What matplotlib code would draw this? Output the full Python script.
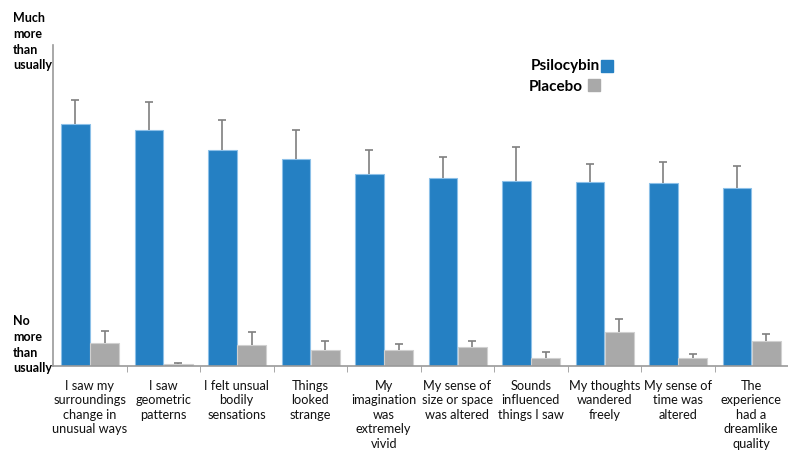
import numpy as np
import matplotlib
matplotlib.use("Agg")
import matplotlib.pyplot as plt
from matplotlib.patches import Rectangle

plt.rcParams['font.family'] = ['Lato', 'DejaVu Sans']

# items rated on the questionnaire (0 = no more than usually, 100 = much more)
labels = [
    "I saw my\nsurroundings\nchange in\nunusual ways",
    "I saw\ngeometric\npatterns",
    "I felt unsual\nbodily\nsensations",
    "Things\nlooked\nstrange",
    "My\nimagination\nwas\nextremely\nvivid",
    "My sense of\nsize or space\nwas altered",
    "Sounds\ninfluenced\nthings I saw",
    "My thoughts\nwandered\nfreely",
    "My sense of\ntime was\naltered",
    "The\nexperience\nhad a\ndreamlike\nquality",
]
psilocybin = [75.4, 73.6, 67.3, 64.6, 59.7, 58.7, 57.5, 57.2, 56.9, 55.5]
psilocybin_err = [7.5, 8.7, 9.4, 8.8, 7.5, 6.5, 10.8, 5.6, 6.7, 6.9]
placebo = [7.2, 0.5, 6.4, 5.1, 5.0, 5.8, 2.4, 10.6, 2.4, 7.7]
placebo_err = [3.7, 0.3, 4.1, 2.6, 1.9, 1.9, 1.9, 4.0, 1.4, 2.4]

blue = '#2580c3'
grey = '#a9a9a9'
err_col = '#7f7f7f'

fig = plt.figure(figsize=(7.88, 4.55), dpi=100)
ax = fig.add_axes([53/788, 1-366/455, 735/788, 321/455])

x = np.arange(len(labels))
w = 0.39


def upper_err(xs, ys, errs):
    # only the upper half of the error bar, capped at the top
    ys = np.asarray(ys)
    tops = ys + np.asarray(errs)
    ax.vlines(xs, ys, tops, color=err_col, linewidth=1.2, zorder=3)
    ax.plot(xs, tops, ls='none', marker='_', ms=6, mew=1.2, color=err_col, zorder=3)


xb = x - w/2
xg = x + w/2 + 0.01
ax.bar(xb, psilocybin, w, color=blue, edgecolor='#8cc0e8', linewidth=0.8)
ax.bar(xg, placebo, w, color=grey, edgecolor='#d0d0d0', linewidth=0.8)
upper_err(xb, psilocybin, psilocybin_err)
upper_err(xg, placebo, placebo_err)

ax.set_xlim(-0.5, len(labels) - 0.5)
ax.set_ylim(0, 100)
for s in ['top', 'right']:
    ax.spines[s].set_visible(False)
for s in ['left', 'bottom']:
    ax.spines[s].set_color('#999999')
    ax.spines[s].set_linewidth(1.2)
ax.set_yticks([])

ax.set_xticks(np.arange(len(labels) - 1) + 0.5, minor=True)
ax.tick_params(axis='x', which='minor', length=4, color='#999999', direction='out')
ax.set_xticks(x)
ax.set_xticklabels(labels, fontsize=9.2, linespacing=1.25, color='#111111')
ax.tick_params(axis='x', which='major', length=0, pad=10)

# y-axis end labels
fig.text(13/788, 1-12/455, "Much\nmore\nthan\nusually", fontsize=9, fontweight='bold',
         va='top', ha='left', linespacing=1.38)
fig.text(13/788, 1-315/455, "No\nmore\nthan\nusually", fontsize=9, fontweight='bold',
         va='top', ha='left', linespacing=1.38)

# legend
fig.text(600/788, 1-66/455, "Psilocybin", fontsize=11, fontweight='bold',
         ha='right', va='center')
fig.text(529/788, 1-87/455, "Placebo", fontsize=11, fontweight='bold',
         ha='left', va='center')
fig.patches.append(Rectangle((601/788, 1-72/455), 12/788, 12/455, color=blue,
                             transform=fig.transFigure, figure=fig))
fig.patches.append(Rectangle((588/788, 1-91/455), 12/788, 12/455, color=grey,
                             transform=fig.transFigure, figure=fig))

fig.savefig('out.png', dpi=100)
